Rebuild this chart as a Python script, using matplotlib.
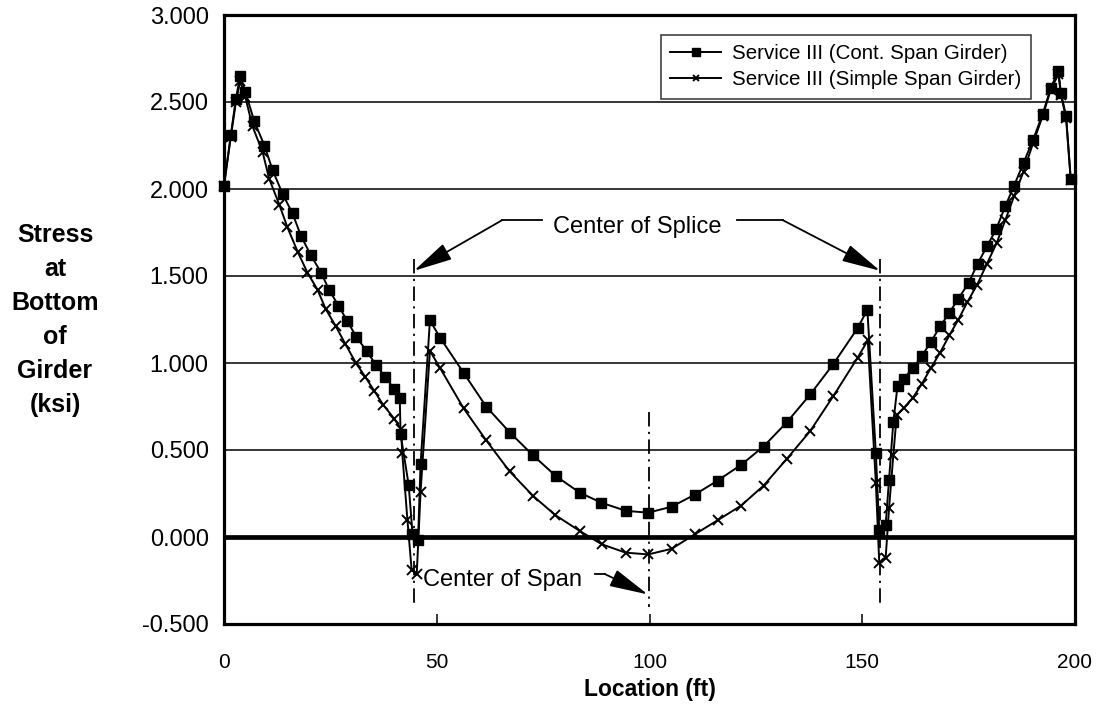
import matplotlib
matplotlib.use("Agg")
import matplotlib.pyplot as plt

plt.rcParams['font.family'] = ['Liberation Sans', 'DejaVu Sans']

# ---- data ----
cont_x = [0, 1.6, 2.8, 3.8, 5.0, 7.1, 9.5, 11.4, 13.8, 16.1, 18.1, 20.4, 22.8, 24.7, 26.9, 29.0,
          31.1, 33.5, 35.7, 37.9, 40.0, 41.3, 41.5, 43.4, 44.3, 45.6, 46.2, 48.4, 50.8, 56.4,
          61.6, 67.2, 72.6, 78.0, 83.6, 88.7, 94.5, 99.7, 105.2, 110.6, 116.0, 121.6, 126.8,
          132.3, 137.8, 143.2, 148.9, 151.2, 153.2, 154.0, 155.5, 156.3, 157.3, 158.3, 159.7,
          161.9, 164.0, 166.1, 168.3, 170.5, 172.6, 175.0, 177.1, 179.3, 181.5, 183.6, 185.7,
          187.9, 190.1, 192.4, 194.3, 196.1, 196.7, 197.9, 199.0]
cont_y = [2.02, 2.31, 2.52, 2.65, 2.56, 2.39, 2.25, 2.11, 1.97, 1.86, 1.73, 1.62, 1.52, 1.42, 1.33, 1.24,
          1.15, 1.07, 0.99, 0.92, 0.85, 0.80, 0.59, 0.30, 0.02, -0.02, 0.42, 1.245, 1.145, 0.94,
          0.75, 0.60, 0.47, 0.35, 0.255, 0.197, 0.15, 0.14, 0.174, 0.243, 0.324, 0.416, 0.52,
          0.66, 0.82, 0.994, 1.20, 1.306, 0.48, 0.04, 0.07, 0.33, 0.66, 0.87, 0.91,
          0.97, 1.04, 1.12, 1.21, 1.29, 1.37, 1.46, 1.57, 1.67, 1.77, 1.90, 2.02,
          2.15, 2.28, 2.43, 2.58, 2.68, 2.55, 2.42, 2.06]

simple_x = [0, 1.6, 2.8, 3.8, 5.0, 6.7, 9.1, 10.6, 13.0, 14.9, 17.3, 19.6, 22.0, 23.9, 26.3, 28.5,
            31.0, 33.2, 35.3, 37.4, 40.0, 41.6, 41.9, 43.1, 44.1, 45.3, 46.2, 48.4, 50.8, 56.3,
            61.6, 67.1, 72.6, 77.9, 83.6, 88.8, 94.4, 99.7, 105.2, 110.6, 116.0, 121.5, 126.8,
            132.3, 137.8, 143.2, 148.9, 151.3, 153.2, 154.0, 155.5, 156.3, 157.3, 158.1, 159.7,
            161.9, 164.0, 166.1, 168.3, 170.5, 172.6, 174.7, 177.0, 179.3, 181.6, 183.6, 185.7,
            187.9, 190.1, 192.4, 194.3, 196.1, 196.7, 197.9, 199.0]
simple_y = [2.02, 2.30, 2.50, 2.62, 2.53, 2.36, 2.21, 2.06, 1.91, 1.78, 1.64, 1.52, 1.42, 1.31, 1.21, 1.11,
            1.00, 0.92, 0.84, 0.76, 0.68, 0.62, 0.48, 0.10, -0.19, -0.21, 0.26, 1.07, 0.97, 0.74,
            0.556, 0.378, 0.237, 0.125, 0.035, -0.042, -0.09, -0.10, -0.068, 0.015, 0.096, 0.18, 0.295,
            0.45, 0.61, 0.81, 1.03, 1.13, 0.31, -0.15, -0.12, 0.165, 0.47, 0.70, 0.74,
            0.80, 0.88, 0.97, 1.06, 1.16, 1.25, 1.35, 1.45, 1.57, 1.69, 1.82, 1.96,
            2.10, 2.26, 2.42, 2.57, 2.66, 2.54, 2.41, 2.05]

series_labels = ["Service III (Cont. Span Girder)", "Service III (Simple Span Girder)"]
x_ticks = [0, 50, 100, 150, 200]
y_ticks = [-0.5, 0.0, 0.5, 1.0, 1.5, 2.0, 2.5, 3.0]
splice_x = [44.65, 154.2]
span_center_x = 99.9

# ---- figure ----
W, H = 1114, 713
fig = plt.figure(figsize=(W / 100, H / 100), dpi=100)
L, R, T, B = 224, 1075, 15, 624
ax = fig.add_axes([L / W, 1 - B / H, (R - L) / W, (B - T) / H])

ax.set_xlim(0, 200)
ax.set_ylim(-0.5, 3.0)

for yv in y_ticks:
    if yv not in (-0.5, 0.0, 3.0):
        ax.axhline(yv, color='black', lw=1.1, zorder=1)
ax.axhline(0.0, color='black', lw=3.4, zorder=2, solid_capstyle='round')

ax.plot(cont_x, cont_y, color='black', lw=1.4, marker='s', markersize=7.5,
        markerfacecolor='black', markeredgecolor='black', label=series_labels[0], zorder=4,
        clip_on=False)
ax.plot(simple_x, simple_y, color='black', lw=1.4, marker='x', markersize=7,
        markeredgewidth=1.4, label=series_labels[1], zorder=3, clip_on=False)

# dash-dot reference lines
dd = (0, (8, 3, 1.2, 3))
for sx in splice_x:
    ax.plot([sx, sx], [1.60, -0.41], color='black', lw=1.3, linestyle=dd, zorder=2)
ax.plot([span_center_x, span_center_x], [0.72, -0.40], color='black', lw=1.3, linestyle=dd, zorder=2)

# annotations
arrowprops = dict(arrowstyle='-|>,head_length=2.4,head_width=0.55', color='black', lw=1.3,
                  shrinkA=0, shrinkB=0, mutation_scale=10)
ax.text(97.1, 1.78, "Center of Splice", fontsize=17, ha='center', va='center', zorder=5)
ax.plot([65.3, 74.7], [1.82, 1.82], color='black', lw=1.3)
ax.annotate("", xy=(44.65, 1.53), xytext=(65.3, 1.82), arrowprops=arrowprops)
ax.plot([120.6, 131.4], [1.82, 1.82], color='black', lw=1.3)
ax.annotate("", xy=(154.2, 1.53), xytext=(131.4, 1.82), arrowprops=arrowprops)

ax.text(46.8, -0.247, "Center of Span", fontsize=17, ha='left', va='center', zorder=5)
ax.plot([87.2, 89.5], [-0.213, -0.213], color='black', lw=1.3)
ax.annotate("", xy=(99.6, -0.33), xytext=(89.5, -0.213), arrowprops=arrowprops)

# axes styling
for sp in ax.spines.values():
    sp.set_linewidth(2.3)
    sp.set_color('black')
    sp.set_zorder(6)

ax.set_xticks(x_ticks)
ax.set_xticklabels([str(v) for v in x_ticks])
ax.set_yticks(y_ticks)
ax.set_yticklabels([f"{v:.3f}" for v in y_ticks])
ax.tick_params(axis='x', direction='in', length=7, width=1.1, labelsize=15, pad=21)
ax.tick_params(axis='y', direction='in', length=0, labelsize=17, pad=11)

ax.set_xlabel("Location (ft)", fontsize=16.5, fontweight='bold', labelpad=4)
fig.text(55 / W, 1 - 320 / H, "Stress\nat\nBottom\nof\nGirder\n(ksi)", fontsize=18,
         fontweight='bold', ha='center', va='center', linespacing=1.52)

leg = ax.legend(loc='upper right', bbox_to_anchor=((1031 - L) / (R - L), (B - 35) / (B - T)),
                borderaxespad=0, fontsize=14.8, frameon=True, fancybox=False, numpoints=1,
                handlelength=2.5, handletextpad=0.55, labelspacing=0.35, borderpad=0.45,
                markerscale=0.7)
leg.get_frame().set_edgecolor('black')
leg.get_frame().set_linewidth(1.1)

fig.savefig("out.png", dpi=100)
